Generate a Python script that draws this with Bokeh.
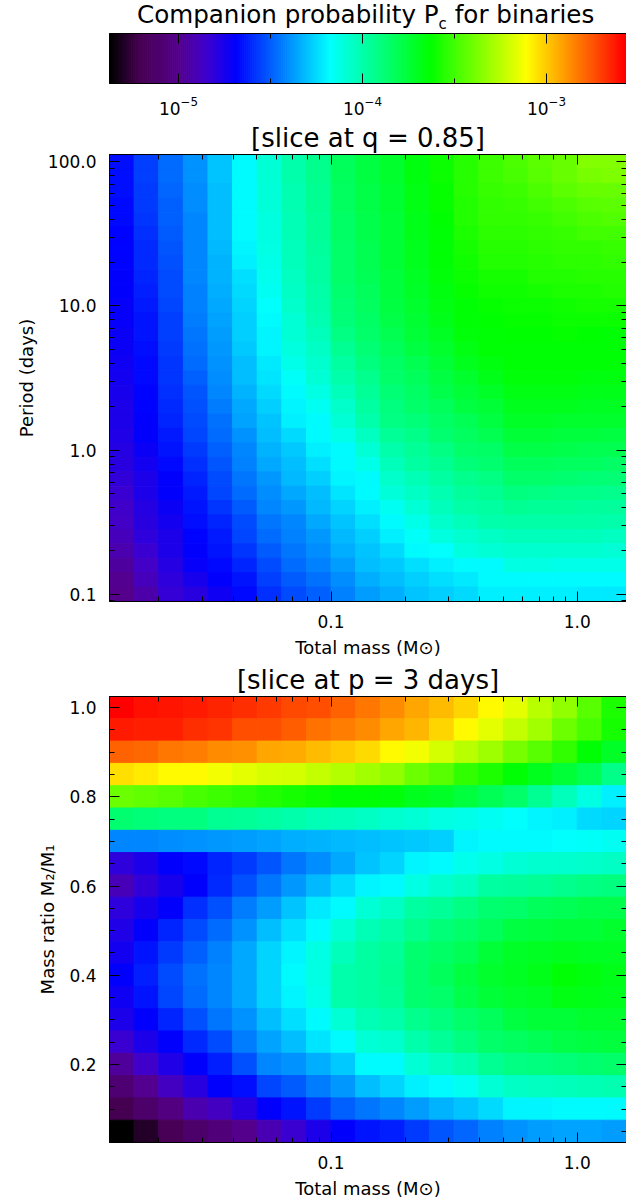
import numpy as np
from bokeh.embed import file_html
from bokeh.layouts import column
from bokeh.models import (ColumnDataSource, Div, FixedTicker, LinearAxis, LogAxis, LogColorMapper,
                          PrintfTickFormatter, Range1d)
from bokeh.plotting import figure
from bokeh.resources import INLINE
from bokeh.transform import transform

FONT = "DejaVu Sans"
MAIN_TITLE = "Companion probability P<sub style='font-size:15px'>c</sub> for binaries"
TITLE_Q = "[slice at q = 0.85]"
TITLE_P = "[slice at p = 3 days]"
XLABEL = "Total mass (M\u2299)"
YLABEL_P = "Period (days)"
YLABEL_Q = "Mass ratio M\u2082/M\u2081"

LOG_LOW, LOG_HIGH = -5.375, -2.565
CMAP_POS = [0.0, 0.056, 0.133, 0.186, 0.245, 0.426, 0.623, 0.808, 1.0]
CMAP_R = [0, 70, 85, 65, 0, 0, 0, 255, 255]
CMAP_G = [0, 0, 0, 0, 0, 255, 255, 255, 0]
CMAP_B = [0, 80, 140, 205, 255, 255, 0, 0, 0]

cbar_major = [1e-5, 1e-4, 1e-3]
cbar_minor = [10**-4.5, 10**-3.5]
mass_major = [0.1, 1.0]
mass_minor = [0.02, 0.03, 0.04, 0.05, 0.06, 0.07, 0.08, 0.09, 0.2, 0.3, 0.4, 0.5, 0.6, 0.7, 0.8, 0.9]
period_major = [0.1, 1.0, 10.0, 100.0]
period_minor = [0.09, 0.2, 0.3, 0.4, 0.5, 0.6, 0.7, 0.8, 0.9, 2, 3, 4, 5, 6, 7, 8, 9,
                20, 30, 40, 50, 60, 70, 80, 90]
ratio_major = [0.2, 0.4, 0.6, 0.8, 1.0]
ratio_minor = [0.05, 0.1, 0.15, 0.25, 0.3, 0.35, 0.45, 0.5, 0.55, 0.65, 0.7, 0.75, 0.85, 0.9, 0.95]

# mass bin centres, log10(M) (21 columns, left to right)
log_mass = [-1.85, -1.75, -1.65, -1.55, -1.45, -1.35, -1.25, -1.15, -1.05, -0.95, -0.85,
            -0.75, -0.65, -0.55, -0.45, -0.35, -0.25, -0.15, -0.05, 0.05, 0.15]
# period bin centres, log10(P) (31 rows, top to bottom)
log_period = [2.0, 1.9, 1.8, 1.7, 1.6, 1.5, 1.4, 1.3, 1.2, 1.1, 1.0, 0.9, 0.8, 0.7, 0.6, 0.5,
              0.4, 0.3, 0.2, 0.1, 0.0, -0.1, -0.2, -0.3, -0.4, -0.5, -0.6, -0.7, -0.8, -0.9, -1.0]
# mass ratio bin centres (20 rows, top to bottom)
mass_ratio = [1.0, 0.95, 0.9, 0.85, 0.8, 0.75, 0.7, 0.65, 0.6, 0.55, 0.5, 0.45, 0.4, 0.35, 0.3,
              0.25, 0.2, 0.15, 0.1, 0.05]

# log10(Pc) read from the q slice: one list per mass column, top to bottom
logpc_q_c00 = [-4.66,-4.66,-4.66,-4.67,-4.67,-4.68,-4.68,-4.68,-4.69,-4.69,-4.70,-4.70,-4.71,-4.71,-4.72,-4.73,-4.74,-4.75,-4.76,-4.77,-4.78,-4.79,-4.81,-4.83,-4.85,-4.87,-4.89,-4.92,-4.95,-4.98,-5.00]
logpc_q_c01 = [-4.56,-4.56,-4.57,-4.57,-4.58,-4.59,-4.60,-4.60,-4.61,-4.62,-4.63,-4.64,-4.65,-4.66,-4.67,-4.67,-4.68,-4.68,-4.69,-4.69,-4.71,-4.73,-4.75,-4.76,-4.78,-4.79,-4.80,-4.83,-4.86,-4.89,-4.93]
logpc_q_c02 = [-4.47,-4.47,-4.48,-4.49,-4.49,-4.50,-4.51,-4.52,-4.53,-4.54,-4.55,-4.56,-4.56,-4.57,-4.58,-4.58,-4.59,-4.60,-4.61,-4.63,-4.65,-4.67,-4.69,-4.69,-4.71,-4.73,-4.75,-4.76,-4.78,-4.80,-4.82]
logpc_q_c03 = [-4.39,-4.39,-4.40,-4.40,-4.41,-4.41,-4.42,-4.42,-4.42,-4.43,-4.43,-4.44,-4.45,-4.46,-4.47,-4.49,-4.51,-4.52,-4.53,-4.55,-4.57,-4.59,-4.61,-4.63,-4.65,-4.66,-4.68,-4.69,-4.70,-4.74,-4.79]
logpc_q_c04 = [-4.29,-4.29,-4.30,-4.30,-4.31,-4.31,-4.32,-4.33,-4.33,-4.34,-4.35,-4.36,-4.37,-4.38,-4.39,-4.40,-4.42,-4.44,-4.46,-4.47,-4.49,-4.51,-4.53,-4.55,-4.58,-4.61,-4.63,-4.65,-4.67,-4.69,-4.72]
logpc_q_c05 = [-4.18,-4.18,-4.18,-4.18,-4.18,-4.18,-4.19,-4.21,-4.24,-4.25,-4.26,-4.27,-4.27,-4.28,-4.30,-4.31,-4.33,-4.35,-4.36,-4.39,-4.41,-4.43,-4.45,-4.47,-4.50,-4.53,-4.55,-4.58,-4.61,-4.64,-4.67]
logpc_q_c06 = [-4.09,-4.09,-4.10,-4.10,-4.11,-4.11,-4.12,-4.13,-4.14,-4.15,-4.17,-4.18,-4.19,-4.20,-4.22,-4.23,-4.25,-4.27,-4.29,-4.31,-4.33,-4.35,-4.38,-4.40,-4.42,-4.45,-4.47,-4.50,-4.53,-4.56,-4.59]
logpc_q_c07 = [-4.00,-4.00,-4.01,-4.01,-4.02,-4.02,-4.03,-4.03,-4.04,-4.05,-4.06,-4.08,-4.09,-4.11,-4.13,-4.16,-4.18,-4.19,-4.21,-4.25,-4.28,-4.30,-4.32,-4.35,-4.38,-4.41,-4.43,-4.45,-4.47,-4.50,-4.53]
logpc_q_c08 = [-3.93,-3.93,-3.94,-3.94,-3.95,-3.95,-3.96,-3.97,-3.98,-3.99,-4.00,-4.01,-4.03,-4.05,-4.07,-4.09,-4.12,-4.15,-4.18,-4.18,-4.21,-4.24,-4.27,-4.30,-4.32,-4.35,-4.38,-4.40,-4.43,-4.46,-4.49]
logpc_q_c09 = [-3.82,-3.82,-3.83,-3.83,-3.84,-3.84,-3.85,-3.85,-3.86,-3.87,-3.88,-3.89,-3.91,-3.94,-3.97,-4.00,-4.03,-4.06,-4.09,-4.13,-4.18,-4.18,-4.20,-4.23,-4.26,-4.29,-4.32,-4.34,-4.37,-4.40,-4.43]
logpc_q_c10 = [-3.77,-3.77,-3.78,-3.78,-3.79,-3.79,-3.80,-3.80,-3.81,-3.82,-3.83,-3.84,-3.86,-3.88,-3.90,-3.93,-3.95,-3.98,-4.00,-4.04,-4.09,-4.13,-4.18,-4.18,-4.21,-4.24,-4.27,-4.29,-4.31,-4.34,-4.37]
logpc_q_c11 = [-3.72,-3.72,-3.73,-3.73,-3.74,-3.74,-3.75,-3.75,-3.76,-3.76,-3.77,-3.78,-3.80,-3.82,-3.84,-3.86,-3.88,-3.90,-3.91,-3.95,-4.00,-4.03,-4.06,-4.10,-4.15,-4.18,-4.21,-4.25,-4.28,-4.31,-4.34]
logpc_q_c12 = [-3.66,-3.66,-3.67,-3.67,-3.68,-3.68,-3.69,-3.69,-3.70,-3.71,-3.72,-3.73,-3.75,-3.77,-3.80,-3.82,-3.84,-3.86,-3.89,-3.92,-3.95,-3.98,-4.02,-4.05,-4.09,-4.13,-4.16,-4.18,-4.24,-4.27,-4.29]
logpc_q_c13 = [-3.60,-3.60,-3.61,-3.61,-3.62,-3.63,-3.63,-3.64,-3.65,-3.66,-3.67,-3.68,-3.70,-3.72,-3.74,-3.77,-3.79,-3.82,-3.84,-3.87,-3.91,-3.94,-3.98,-4.01,-4.03,-4.06,-4.11,-4.17,-4.21,-4.24,-4.27]
logpc_q_c14 = [-3.55,-3.55,-3.55,-3.56,-3.56,-3.57,-3.58,-3.59,-3.60,-3.61,-3.63,-3.64,-3.65,-3.67,-3.69,-3.72,-3.74,-3.77,-3.81,-3.83,-3.86,-3.89,-3.93,-3.96,-3.99,-4.03,-4.07,-4.11,-4.18,-4.22,-4.25]
logpc_q_c15 = [-3.50,-3.50,-3.51,-3.52,-3.53,-3.54,-3.55,-3.56,-3.58,-3.59,-3.61,-3.62,-3.63,-3.63,-3.66,-3.68,-3.71,-3.74,-3.77,-3.80,-3.84,-3.87,-3.91,-3.94,-3.97,-4.00,-4.05,-4.09,-4.18,-4.18,-4.21]
logpc_q_c16 = [-3.47,-3.48,-3.50,-3.51,-3.52,-3.54,-3.55,-3.56,-3.58,-3.59,-3.60,-3.61,-3.62,-3.63,-3.63,-3.65,-3.67,-3.69,-3.71,-3.74,-3.78,-3.82,-3.86,-3.90,-3.94,-3.99,-4.03,-4.07,-4.12,-4.18,-4.21]
logpc_q_c17 = [-3.44,-3.45,-3.47,-3.49,-3.51,-3.52,-3.54,-3.55,-3.56,-3.58,-3.60,-3.61,-3.62,-3.63,-3.63,-3.65,-3.67,-3.69,-3.71,-3.75,-3.78,-3.82,-3.86,-3.91,-3.95,-3.99,-4.03,-4.07,-4.12,-4.18,-4.21]
logpc_q_c18 = [-3.42,-3.42,-3.44,-3.47,-3.49,-3.51,-3.53,-3.54,-3.56,-3.57,-3.59,-3.60,-3.61,-3.63,-3.64,-3.65,-3.67,-3.69,-3.72,-3.76,-3.79,-3.83,-3.87,-3.92,-3.95,-3.99,-4.03,-4.07,-4.13,-4.18,-4.21]
logpc_q_c19 = [-3.36,-3.38,-3.42,-3.45,-3.47,-3.49,-3.52,-3.54,-3.55,-3.57,-3.58,-3.60,-3.62,-3.63,-3.64,-3.66,-3.68,-3.70,-3.72,-3.76,-3.80,-3.83,-3.88,-3.92,-3.96,-3.99,-4.03,-4.07,-4.13,-4.18,-4.22]
logpc_q_c20 = [-3.36,-3.37,-3.42,-3.44,-3.46,-3.49,-3.51,-3.53,-3.55,-3.56,-3.58,-3.60,-3.63,-3.63,-3.64,-3.66,-3.68,-3.70,-3.72,-3.77,-3.80,-3.84,-3.88,-3.93,-3.96,-4.00,-4.04,-4.08,-4.13,-4.18,-4.22]

# log10(Pc) read from the p slice: one list per mass-ratio row, top to bottom
logpc_p_r00 = [-2.57,-2.60,-2.61,-2.63,-2.65,-2.67,-2.69,-2.72,-2.74,-2.78,-2.82,-2.87,-2.92,-2.97,-3.02,-3.10,-3.16,-3.25,-3.33,-3.45,-3.57]
logpc_p_r01 = [-2.62,-2.64,-2.64,-2.67,-2.68,-2.73,-2.74,-2.77,-2.81,-2.83,-2.87,-2.92,-2.96,-3.02,-3.10,-3.16,-3.23,-3.29,-3.40,-3.48,-3.58]
logpc_p_r02 = [-2.78,-2.79,-2.82,-2.83,-2.87,-2.88,-2.92,-2.93,-2.97,-3.00,-3.03,-3.10,-3.13,-3.20,-3.25,-3.31,-3.38,-3.45,-3.53,-3.63,-3.71]
logpc_p_r03 = [-3.04,-3.06,-3.10,-3.10,-3.13,-3.16,-3.18,-3.20,-3.23,-3.26,-3.29,-3.33,-3.40,-3.45,-3.52,-3.57,-3.63,-3.69,-3.75,-3.81,-3.92]
logpc_p_r04 = [-3.40,-3.43,-3.45,-3.48,-3.50,-3.53,-3.56,-3.58,-3.60,-3.63,-3.64,-3.65,-3.69,-3.71,-3.76,-3.81,-3.86,-3.94,-4.03,-4.12,-4.21]
logpc_p_r05 = [-3.87,-3.89,-3.90,-3.90,-3.94,-3.95,-3.97,-4.00,-4.02,-4.03,-4.05,-4.07,-4.08,-4.12,-4.13,-4.15,-4.17,-4.19,-4.21,-4.25,-4.26]
logpc_p_r06 = [-4.41,-4.41,-4.40,-4.39,-4.38,-4.37,-4.36,-4.34,-4.33,-4.32,-4.31,-4.29,-4.28,-4.27,-4.20,-4.18,-4.18,-4.18,-4.17,-4.16,-4.15]
logpc_p_r07 = [-4.80,-4.75,-4.69,-4.67,-4.61,-4.57,-4.51,-4.45,-4.40,-4.35,-4.29,-4.26,-4.19,-4.18,-4.14,-4.12,-4.09,-4.07,-4.07,-4.06,-4.05]
logpc_p_r08 = [-4.90,-4.81,-4.74,-4.69,-4.60,-4.52,-4.45,-4.38,-4.32,-4.25,-4.19,-4.18,-4.12,-4.07,-4.04,-3.98,-3.96,-3.95,-3.93,-3.91,-3.90]
logpc_p_r09 = [-4.80,-4.74,-4.69,-4.59,-4.52,-4.44,-4.37,-4.29,-4.22,-4.18,-4.09,-4.05,-3.97,-3.95,-3.91,-3.87,-3.86,-3.82,-3.81,-3.79,-3.79]
logpc_p_r10 = [-4.77,-4.69,-4.61,-4.54,-4.47,-4.39,-4.31,-4.24,-4.18,-4.09,-4.02,-3.99,-3.93,-3.89,-3.85,-3.82,-3.77,-3.76,-3.75,-3.74,-3.72]
logpc_p_r11 = [-4.73,-4.64,-4.57,-4.49,-4.43,-4.35,-4.26,-4.19,-4.12,-4.03,-3.98,-3.95,-3.87,-3.84,-3.81,-3.75,-3.71,-3.70,-3.69,-3.70,-3.70]
logpc_p_r12 = [-4.69,-4.62,-4.53,-4.46,-4.42,-4.35,-4.26,-4.18,-4.12,-4.00,-3.97,-3.94,-3.87,-3.82,-3.77,-3.72,-3.70,-3.68,-3.64,-3.66,-3.68]
logpc_p_r13 = [-4.72,-4.64,-4.55,-4.47,-4.42,-4.35,-4.26,-4.20,-4.13,-4.00,-3.98,-3.95,-3.87,-3.85,-3.79,-3.75,-3.72,-3.71,-3.67,-3.68,-3.69]
logpc_p_r14 = [-4.76,-4.69,-4.61,-4.52,-4.45,-4.39,-4.30,-4.24,-4.18,-4.08,-4.02,-4.00,-3.93,-3.90,-3.85,-3.82,-3.77,-3.75,-3.74,-3.72,-3.72]
logpc_p_r15 = [-4.83,-4.75,-4.69,-4.60,-4.54,-4.44,-4.36,-4.30,-4.23,-4.18,-4.09,-4.07,-4.00,-3.95,-3.90,-3.85,-3.83,-3.81,-3.78,-3.77,-3.76]
logpc_p_r16 = [-4.96,-4.85,-4.77,-4.69,-4.62,-4.52,-4.42,-4.39,-4.34,-4.28,-4.18,-4.18,-4.09,-4.04,-4.01,-3.94,-3.91,-3.90,-3.89,-3.87,-3.86]
logpc_p_r17 = [-5.08,-4.98,-4.88,-4.79,-4.69,-4.66,-4.55,-4.50,-4.44,-4.38,-4.31,-4.26,-4.21,-4.18,-4.15,-4.09,-4.05,-4.04,-4.03,-4.02,-4.01]
logpc_p_r18 = [-5.20,-5.12,-5.04,-4.92,-4.88,-4.79,-4.69,-4.64,-4.57,-4.49,-4.45,-4.42,-4.37,-4.33,-4.29,-4.25,-4.20,-4.19,-4.18,-4.18,-4.18]
logpc_p_r19 = [-5.37,-5.29,-5.19,-5.12,-5.06,-5.00,-4.91,-4.83,-4.76,-4.69,-4.64,-4.62,-4.57,-4.51,-4.48,-4.43,-4.39,-4.37,-4.36,-4.36,-4.37]

q_columns = [logpc_q_c00, logpc_q_c01, logpc_q_c02, logpc_q_c03, logpc_q_c04, logpc_q_c05, logpc_q_c06,
             logpc_q_c07, logpc_q_c08, logpc_q_c09, logpc_q_c10, logpc_q_c11, logpc_q_c12, logpc_q_c13,
             logpc_q_c14, logpc_q_c15, logpc_q_c16, logpc_q_c17, logpc_q_c18, logpc_q_c19, logpc_q_c20]
p_rows = [logpc_p_r00, logpc_p_r01, logpc_p_r02, logpc_p_r03, logpc_p_r04, logpc_p_r05, logpc_p_r06,
          logpc_p_r07, logpc_p_r08, logpc_p_r09, logpc_p_r10, logpc_p_r11, logpc_p_r12, logpc_p_r13,
          logpc_p_r14, logpc_p_r15, logpc_p_r16, logpc_p_r17, logpc_p_r18, logpc_p_r19]

f = np.linspace(0, 1, 256)
palette = ["#%02x%02x%02x" % (int(r), int(g), int(b)) for r, g, b in zip(
    np.interp(f, CMAP_POS, CMAP_R), np.interp(f, CMAP_POS, CMAP_G), np.interp(f, CMAP_POS, CMAP_B))]
mapper = LogColorMapper(palette=palette, low=10**LOG_LOW, high=10**LOG_HIGH)

X_RANGE = (10**-1.9, 10**0.2)
LABEL_PX, AXIS_PX, TITLE_PX = "17px", "18px", "26px"
WIDTH, LEFT = 626, 109


def style(axis, major, minor, labels=True):
    axis.ticker = FixedTicker(ticks=major, minor_ticks=minor)
    axis.major_tick_in, axis.major_tick_out = 10, 0
    axis.minor_tick_in, axis.minor_tick_out = 5, 0
    axis.major_tick_line_color = axis.minor_tick_line_color = axis.axis_line_color = "black"
    axis.major_label_text_font = FONT
    axis.major_label_text_color = "black"
    if labels:
        axis.major_label_text_font_size = LABEL_PX
        axis.major_label_standoff = 13
    else:
        axis.major_label_text_font_size = "0px"
        axis.major_label_standoff = 0
        axis.major_label_text_color = None


def panel(y_type, y_range, ymajor, yminor, title, ylabel, top, h, bottom, label_gap):
    p = figure(width=WIDTH, height=top + h + bottom, x_axis_type="log", y_axis_type=y_type,
               x_range=Range1d(*X_RANGE), y_range=Range1d(*y_range), toolbar_location=None,
               output_backend="svg", min_border_left=LEFT, min_border_right=0,
               min_border_top=top, min_border_bottom=bottom, frame_width=WIDTH - LEFT, frame_height=h,
               background_fill_color="white", border_fill_color="white")
    p.grid.visible = False
    p.outline_line_color = "black"
    p.title.text = title
    p.title.align = "center"
    p.title.text_font = FONT
    p.title.text_font_size = TITLE_PX
    p.title.text_font_style = "normal"
    p.title.text_color = "black"
    p.title.standoff = 4
    xax, yax = p.xaxis[0], p.yaxis[0]
    style(xax, mass_major, mass_minor)
    style(yax, ymajor, yminor)
    xax.formatter = PrintfTickFormatter(format="%.1f")
    yax.formatter = PrintfTickFormatter(format="%.1f")
    xax.axis_label = XLABEL
    yax.axis_label = ylabel
    for a in (xax, yax):
        a.axis_label_text_font = FONT
        a.axis_label_text_font_size = AXIS_PX
        a.axis_label_text_font_style = "normal"
        a.axis_label_text_color = "black"
        a.axis_label_standoff = label_gap
    yax.axis_label_standoff = 8
    top_ax = LogAxis()
    style(top_ax, mass_major, mass_minor, labels=False)
    p.add_layout(top_ax, "above")
    right_ax = LogAxis() if y_type == "log" else LinearAxis()
    style(right_ax, ymajor, yminor, labels=False)
    p.add_layout(right_ax, "right")
    return p


def cells(p, left, right, lower, upper, values):
    src = ColumnDataSource(dict(left=left, right=right, bottom=lower, top=upper, v=values))
    c = transform("v", mapper)
    p.quad(left="left", right="right", bottom="bottom", top="top", source=src,
           fill_color=c, line_color=c, line_width=1)


head = Div(text=MAIN_TITLE, width=WIDTH, height=30, margin=(0, 0, 0, 0),
           styles={"font-family": FONT, "font-size": "24.6px", "color": "black", "line-height": "30px",
                   "padding-left": "137px", "white-space": "nowrap"})

# colour bar
levels = np.linspace(LOG_LOW, LOG_HIGH, 257)
cb = figure(width=WIDTH, height=88, x_axis_type="log", x_range=Range1d(10**LOG_LOW, 10**LOG_HIGH),
            y_range=Range1d(0, 1), toolbar_location=None, output_backend="svg",
            min_border_left=LEFT, min_border_right=0, min_border_top=3, min_border_bottom=35,
            frame_width=WIDTH - LEFT, frame_height=50, border_fill_color="white")
cb.grid.visible = False
cb.yaxis.visible = False
cb.outline_line_color = "black"
cb.quad(left=10**levels[:-1], right=10**levels[1:], bottom=0, top=1, fill_color=palette, line_color=palette,
        line_width=1)
style(cb.xaxis[0], cbar_major, cbar_minor)
cb.xaxis[0].major_label_standoff = 12
cb_top = LogAxis()
style(cb_top, cbar_major, cbar_minor, labels=False)
cb.add_layout(cb_top, "above")

lm = np.array(log_mass)
m_left, m_right = 10**(lm - 0.05), 10**(lm + 0.05)

# period panel
p1 = panel("log", (10**-1.05, 10**2.05), period_major, period_minor, TITLE_Q, YLABEL_P, 36, 447, 57, 6)
l, r, b, t, v = [], [], [], [], []
for i, col in enumerate(q_columns):
    for j, val in enumerate(col):
        l.append(m_left[i]); r.append(m_right[i])
        b.append(10**(log_period[j] - 0.05)); t.append(10**(log_period[j] + 0.05)); v.append(10**val)
cells(p1, l, r, b, t, v)

# mass ratio panel
p2 = panel("linear", (0.025, 1.025), ratio_major, ratio_minor, TITLE_P, YLABEL_Q, 36, 446, 58, 6)
l, r, b, t, v = [], [], [], [], []
for j, row in enumerate(p_rows):
    for i, val in enumerate(row):
        l.append(m_left[i]); r.append(m_right[i])
        b.append(mass_ratio[j] - 0.025); t.append(mass_ratio[j] + 0.025); v.append(10**val)
cells(p2, l, r, b, t, v)

page = column(head, cb, p1, p2, spacing=0)
open("out.html", "w").write(file_html(page, INLINE))
